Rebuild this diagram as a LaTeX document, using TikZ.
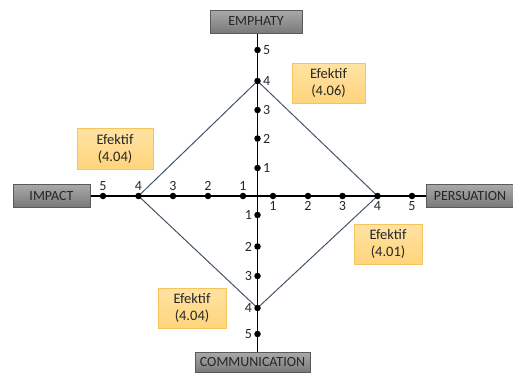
\documentclass[tikz,border=0pt]{standalone}
\usepackage{fontspec}
\setmainfont{Carlito}
\usetikzlibrary{backgrounds}
\definecolor{diamondc}{HTML}{44546A}
\definecolor{efftop}{HTML}{FFE3A3}
\definecolor{effbot}{HTML}{FFD47C}
\definecolor{effdraw}{HTML}{F6C45A}
\definecolor{greytop}{HTML}{A9A9A9}
\definecolor{greybot}{HTML}{7A7A7A}
\definecolor{greydraw}{HTML}{5A5A5A}
\begin{document}
\begin{tikzpicture}[x=1pt,y=-1pt,
  axisbox/.style={draw=greydraw, line width=0.6pt, top color=greytop, bottom color=greybot, minimum height=23pt, inner sep=0pt, text=black!85, font=\fontsize{14}{16}\selectfont},
  effbox/.style={draw=effdraw, line width=0.6pt, top color=efftop, bottom color=effbot, align=center, inner sep=0pt, text=black!85, font=\fontsize{14.5}{17}\selectfont},
  dot/.style={circle, fill=black, inner sep=0pt, minimum size=6.5pt, label distance=0pt},
  ticklbl/.style={font=\fontsize{14}{16}\selectfont, text=black!85, inner sep=2pt},
  axisline/.style={line width=1.3pt, black},
  diamondline/.style={line width=1pt, diamondc}
]
\useasboundingbox (0,0) rectangle (513,376);
% axis label boxes
\node[axisbox, minimum width=92pt] (emp) at (256,21.5) {EMPHATY};
\node[axisbox, minimum width=77pt] (imp) at (51.5,195.5) {IMPACT};
\node[axisbox, minimum width=87pt] (per) at (470,195.5) {PERSUATION};
\node[axisbox, minimum width=115pt, minimum height=20pt] (com) at (252.5,362) {COMMUNICATION};
\coordinate (c) at (257.5,196);
% ticks top
\node[dot, label={[ticklbl]right:1}] (t1) at (257.5,168) {};
\node[dot, label={[ticklbl]right:2}] (t2) at (257.5,138.5) {};
\node[dot, label={[ticklbl]right:3}] (t3) at (257.5,110) {};
\node[dot, label={[ticklbl]right:4}] (t4) at (257.5,81) {};
\node[dot, label={[ticklbl]right:5}] (t5) at (257.5,50) {};
% ticks bottom
\node[dot, label={[ticklbl]left:1}] (b1) at (257.5,215) {};
\node[dot, label={[ticklbl]left:2}] (b2) at (257.5,246.5) {};
\node[dot, label={[ticklbl]left:3}] (b3) at (257.5,276) {};
\node[dot, label={[ticklbl]left:4}] (b4) at (257.5,308) {};
\node[dot, label={[ticklbl]left:5}] (b5) at (257.5,334) {};
% ticks left
\node[dot, label={[ticklbl]above:1}] (l1) at (243,196) {};
\node[dot, label={[ticklbl]above:2}] (l2) at (208,196) {};
\node[dot, label={[ticklbl]above:3}] (l3) at (173,196) {};
\node[dot, label={[ticklbl]above:4}] (l4) at (138.5,196) {};
\node[dot, label={[ticklbl]above:5}] (l5) at (103,196) {};
% ticks right
\node[dot, label={[ticklbl]below:1}] (r1) at (273,196) {};
\node[dot, label={[ticklbl]below:2}] (r2) at (308,196) {};
\node[dot, label={[ticklbl]below:3}] (r3) at (342.5,196) {};
\node[dot, label={[ticklbl]below:4}] (r4) at (377.5,196) {};
\node[dot, label={[ticklbl]below:5}] (r5) at (412,196) {};
\begin{pgfonlayer}{background}
\draw[axisline] (emp.south -| c) -- (com.north -| c);
\draw[axisline] (imp.east |- c) -- (per.west |- c);
\draw[diamondline] (t4.center) -- (r4.center) -- (b4.center) -- (l4.center) -- cycle;
\end{pgfonlayer}
% result boxes
\node[effbox, minimum width=73pt, minimum height=40pt] (e1) at (328.5,83) {Efektif\\(4.06)};
\node[effbox, minimum width=76pt, minimum height=41pt] (e2) at (115,148.5) {Efektif\\(4.04)};
\node[effbox, minimum width=68pt, minimum height=40pt] (e3) at (388,244) {Efektif\\(4.01)};
\node[effbox, minimum width=68pt, minimum height=40pt] (e4) at (192,308) {Efektif\\(4.04)};
\end{tikzpicture}
\end{document}
